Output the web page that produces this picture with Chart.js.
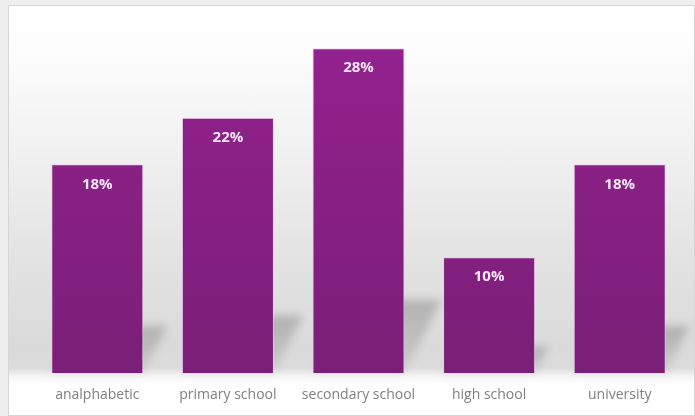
<!DOCTYPE html>
<html>
<head>
<meta charset="utf-8">
<script src="https://cdn.jsdelivr.net/npm/chart.js@4.4.1/dist/chart.umd.min.js"></script>
<style>
  html, body {
    margin: 0;
    padding: 0;
    width: 695px;
    height: 416px;
    overflow: hidden;
    background: #eeeeee;
  }

  .chart-frame {
    position: absolute;
    left: 8px;
    top: 5px;
    width: 687px;
    height: 411px;
    box-sizing: border-box;
    overflow: hidden;
    border: 1px solid #d6d6d6;
    background: linear-gradient(to bottom,
      #ffffff 0px,
      #fcfcfc 50px,
      #f0f0f0 150px,
      #e3e3e3 250px,
      #dadada 340px,
      #dcdcdc 362px,
      #f4f4f4 370px,
      #ffffff 378px,
      #ffffff 100%);
  }

  .chart-frame canvas {
    display: block;
  }
</style>
</head>
<body>
<div class="chart-frame">
  <canvas id="educationChart" width="685" height="422"></canvas>
</div>

<script>
const categories = ['analphabetic', 'primary school', 'secondary school', 'high school', 'university'];
const shares = [18, 22, 28, 10, 18];

const ctx = document.getElementById('educationChart').getContext('2d');

// soft slanted shadow behind every bar, falling to the right
const barShadows = {
  id: 'barShadows',
  beforeDatasetsDraw(chart) {
    const c = chart.ctx;
    const meta = chart.getDatasetMeta(0);

    meta.data.forEach((bar) => {
      const height = bar.base - bar.y;
      const rise = height * 0.225;
      const shift = rise * 0.5;
      const left = bar.x - bar.width / 2;
      const right = bar.x + bar.width / 2;

      const shade = c.createLinearGradient(0, bar.base - rise, 0, bar.base);
      shade.addColorStop(0, 'rgba(0, 0, 0, 0.2)');
      shade.addColorStop(1, 'rgba(0, 0, 0, 0.06)');

      c.save();
      c.filter = 'blur(4px)';
      c.fillStyle = shade;
      c.beginPath();
      c.moveTo(left, bar.base);
      c.lineTo(right, bar.base);
      c.lineTo(right + shift, bar.base - rise);
      c.lineTo(left + shift, bar.base - rise);
      c.closePath();
      c.fill();
      c.restore();
    });
  },
};

// percentage written inside the top of each bar
const valueLabels = {
  id: 'valueLabels',
  afterDatasetsDraw(chart) {
    const c = chart.ctx;
    const meta = chart.getDatasetMeta(0);

    c.save();
    c.font = 'bold 15px "Open Sans", sans-serif';
    c.fillStyle = '#fbe6f8';
    c.textAlign = 'center';
    c.textBaseline = 'middle';

    meta.data.forEach((bar, i) => {
      c.fillText(`${shares[i]}%`, bar.x, bar.y + 20);
    });

    c.restore();
  },
};

const purple = ctx.createLinearGradient(0, 20, 0, 367);
purple.addColorStop(0, '#94228f');
purple.addColorStop(1, '#7a1f77');

const data = {
  labels: categories,
  datasets: [{
    data: shares,
    backgroundColor: purple,
    borderColor: 'rgba(240, 190, 240, 0.7)',
    borderWidth: 1,
    categoryPercentage: 1,
    barPercentage: 0.705,
  }],
};

const options = {
  type: 'bar',
  data,
  plugins: [barShadows, valueLabels],
  options: {
    responsive: false,
    animation: false,
    layout: {
      padding: {
        left: 23,
        right: 9,
        top: 19,
        bottom: 12,
      },
    },
    scales: {
      x: {
        grid: { display: false, drawTicks: false },
        border: { display: false },
        ticks: {
          padding: 13,
          color: '#808080',
          font: {
            family: '"Open Sans", sans-serif',
            size: 14,
          },
        },
      },
      y: {
        display: false,
        min: 0,
        max: 30,
      },
    },
    plugins: {
      legend: { display: false },
      tooltip: { enabled: false },
    },
  },
};

const chart = new Chart(ctx, options);
</script>
</body>
</html>
